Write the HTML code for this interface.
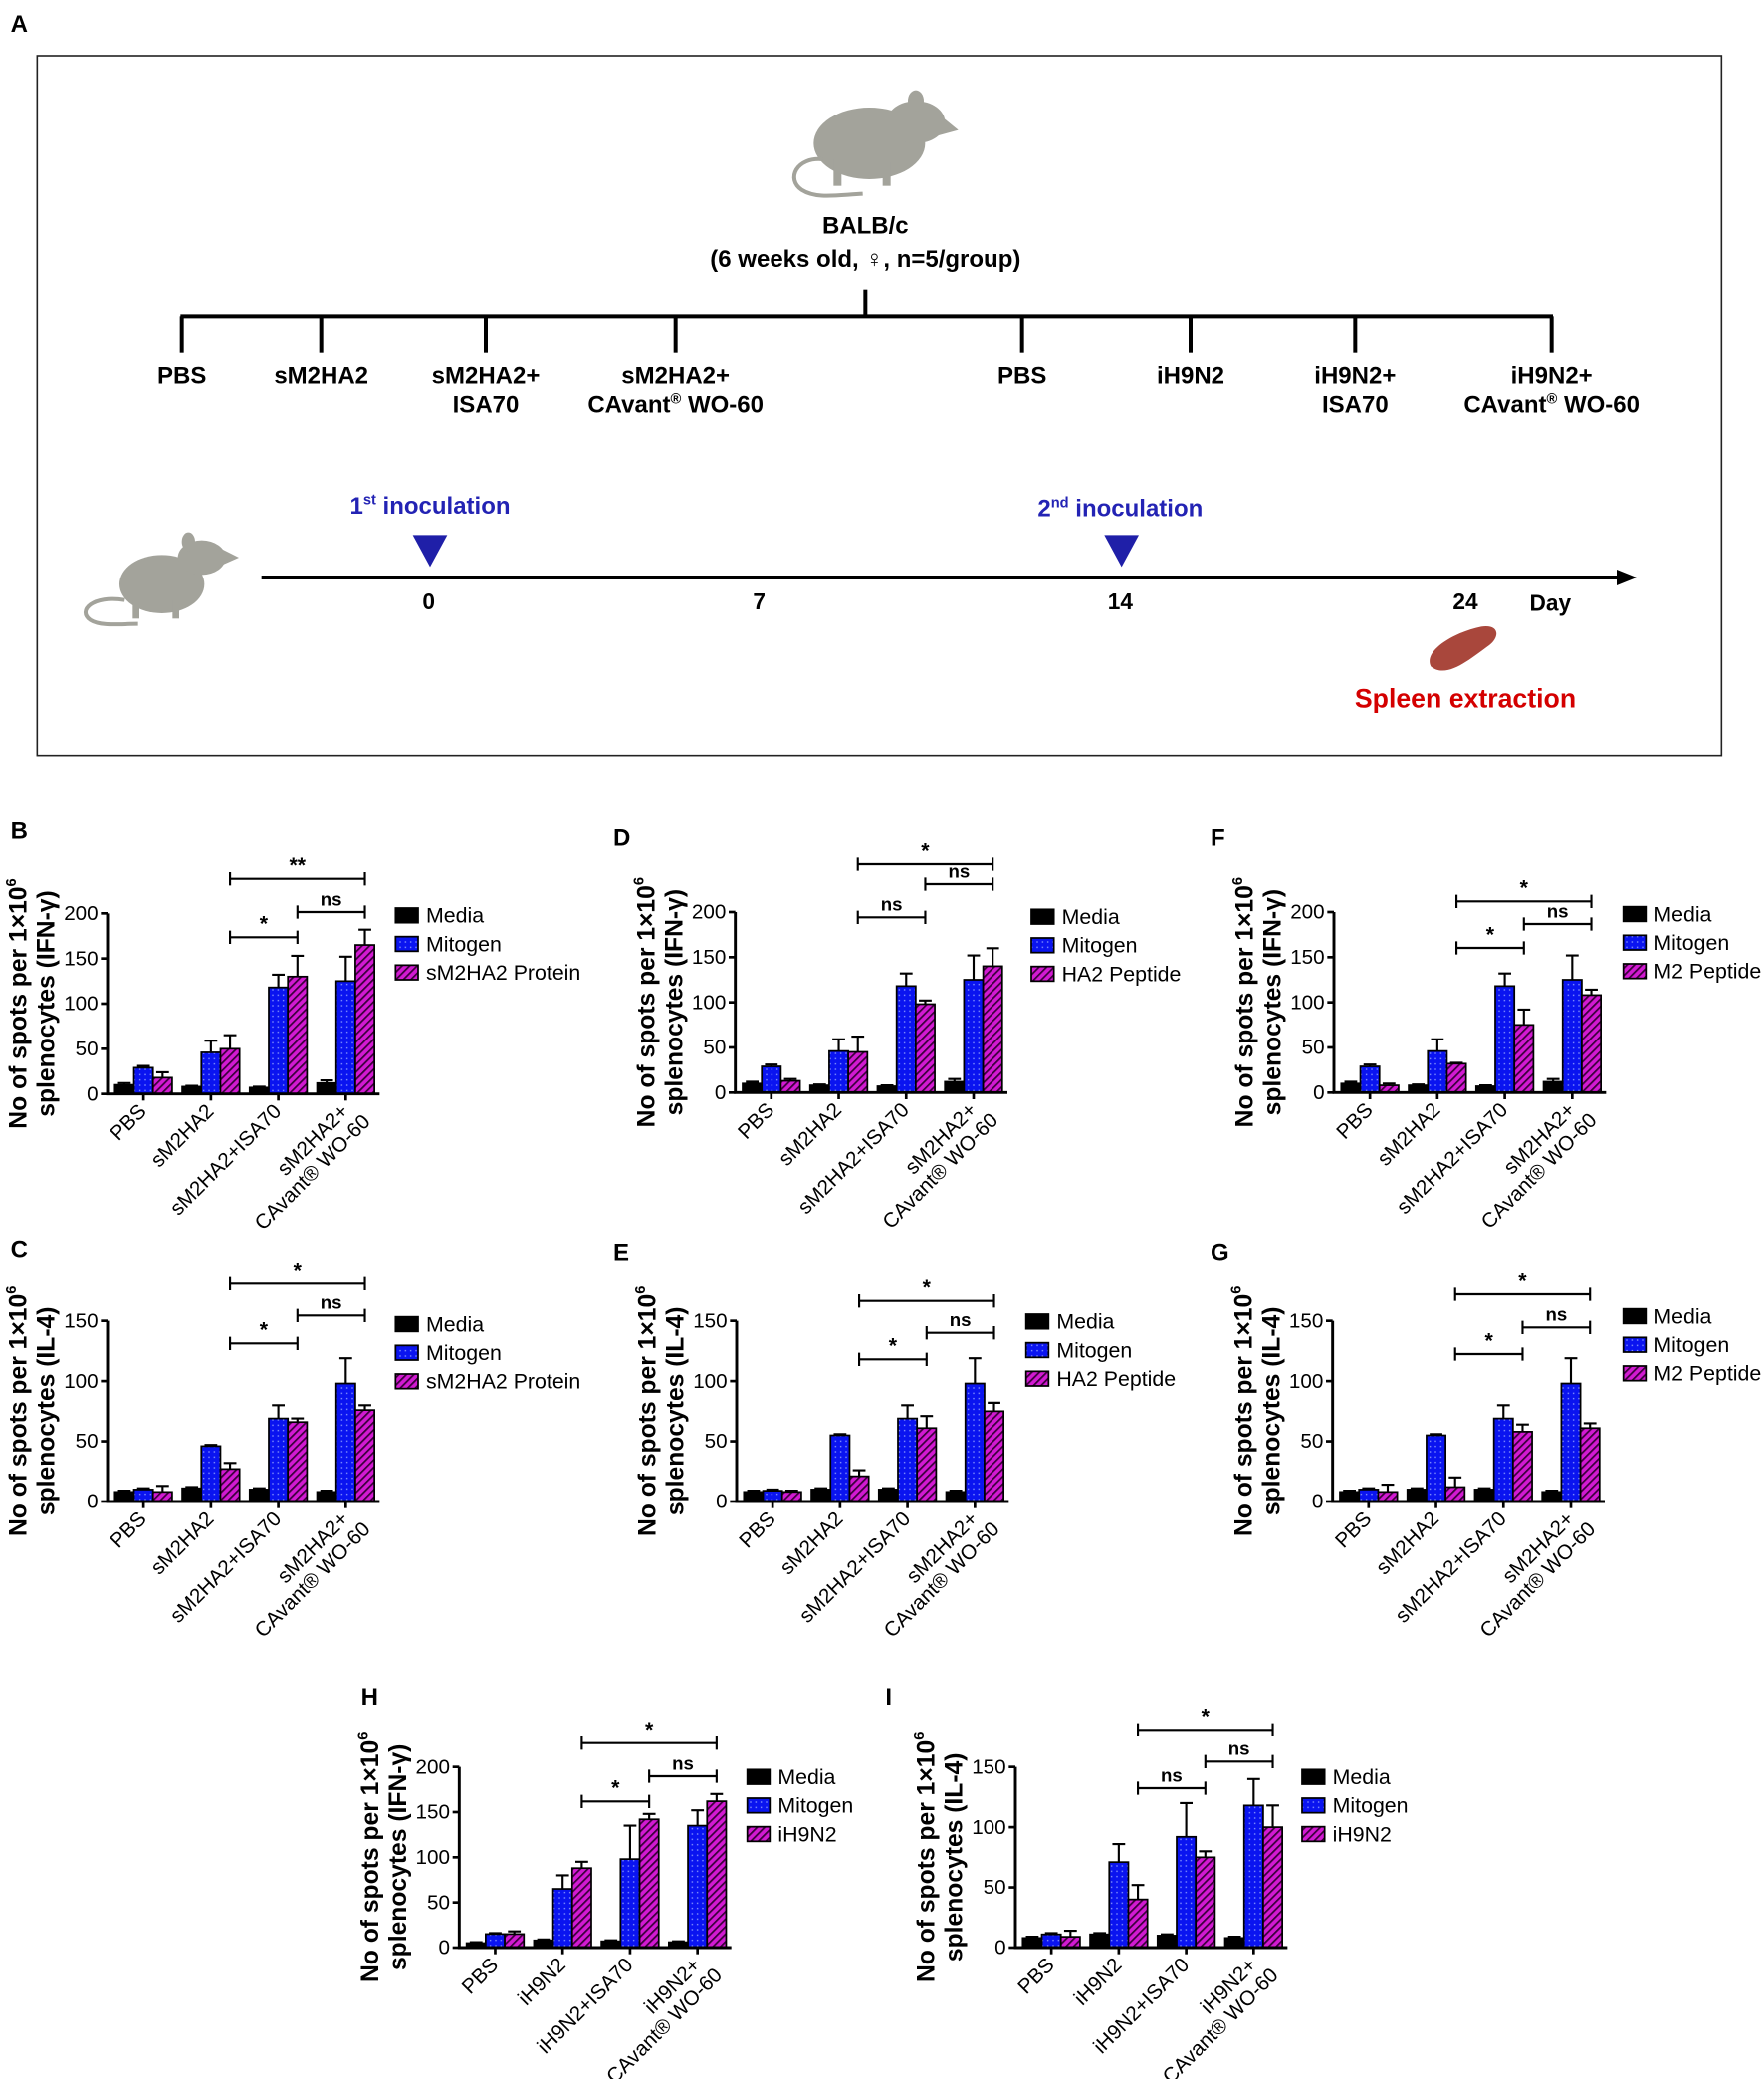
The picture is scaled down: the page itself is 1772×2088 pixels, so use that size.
<!DOCTYPE html>
<html><head><meta charset="utf-8"><style>
html,body{margin:0;padding:0;background:#fff;}
svg{display:block;font-family:"Liberation Sans",Arial,sans-serif;}
</style></head><body>
<svg id="fig" width="1772" height="2088" viewBox="0 0 1329 1566" xmlns="http://www.w3.org/2000/svg">
<defs>
<pattern id="dots" width="4" height="4" patternUnits="userSpaceOnUse"><rect width="4" height="4" fill="#0a14f0"/><rect x="1" y="1" width="1" height="1" fill="#8fa0ff"/></pattern>
<pattern id="stripes" width="4" height="4" patternUnits="userSpaceOnUse" patternTransform="rotate(45)"><rect width="4" height="4" fill="#d21ad2"/><rect width="1.3" height="4" fill="#3a003a"/></pattern>
</defs>
<g>
<text x="8" y="24" font-size="18" font-weight="bold">A</text>
<rect x="28" y="42" width="1269" height="527" fill="none" stroke="#222" stroke-width="1.2"/>
<g fill="#a3a39b">
<ellipse cx="655" cy="108" rx="42" ry="27"/>
<ellipse cx="690" cy="92" rx="22" ry="16"/>
<polygon points="700,80 722,98 700,104"/>
<ellipse cx="690" cy="76" rx="6" ry="8"/>
<rect x="628" y="120" width="6" height="20"/><rect x="665" y="122" width="6" height="18"/>
<path d="M620,120 C600,118 592,135 604,143 C615,150 630,147 650,146" fill="none" stroke="#a3a39b" stroke-width="3"/>
</g>
<text x="652" y="176" font-size="18" font-weight="bold" text-anchor="middle">BALB/c</text>
<text x="652" y="201" font-size="18" font-weight="bold" text-anchor="middle">(6 weeks old, ♀, n=5/group)</text>
<g stroke="#000" stroke-width="3" fill="none">
<line x1="652" y1="218" x2="652" y2="239"/>
<line x1="136" y1="238" x2="1170" y2="238"/>
<line x1="137" y1="238" x2="137" y2="266"/><line x1="242" y1="238" x2="242" y2="266"/>
<line x1="366" y1="238" x2="366" y2="266"/><line x1="509" y1="238" x2="509" y2="266"/>
<line x1="770" y1="238" x2="770" y2="266"/><line x1="897" y1="238" x2="897" y2="266"/>
<line x1="1021" y1="238" x2="1021" y2="266"/><line x1="1169" y1="238" x2="1169" y2="266"/>
</g>
<g font-size="18" font-weight="bold" text-anchor="middle">
<text x="137" y="289">PBS</text><text x="242" y="289">sM2HA2</text>
<text x="366" y="289">sM2HA2+</text><text x="366" y="311">ISA70</text>
<text x="509" y="289">sM2HA2+</text><text x="509" y="311">CAvant<tspan font-size="11" dy="-7">®</tspan><tspan dy="7"> WO-60</tspan></text>
<text x="770" y="289">PBS</text><text x="897" y="289">iH9N2</text>
<text x="1021" y="289">iH9N2+</text><text x="1021" y="311">ISA70</text>
<text x="1169" y="289">iH9N2+</text><text x="1169" y="311">CAvant<tspan font-size="11" dy="-7">®</tspan><tspan dy="7"> WO-60</tspan></text>
</g>
<text x="324" y="387" font-size="18" font-weight="bold" fill="#2323b4" text-anchor="middle">1<tspan font-size="11" dy="-7">st</tspan><tspan dy="7"> inoculation</tspan></text>
<text x="844" y="389" font-size="18" font-weight="bold" fill="#2323b4" text-anchor="middle">2<tspan font-size="11" dy="-7">nd</tspan><tspan dy="7"> inoculation</tspan></text>
<polygon points="311,403 337,403 324,427" fill="#1f1fa8"/>
<polygon points="832,403 858,403 845,427" fill="#1f1fa8"/>
<line x1="197" y1="435" x2="1222" y2="435" stroke="#000" stroke-width="3"/>
<polygon points="1218,429 1233,435 1218,441" fill="#000"/>
<g font-size="17" font-weight="bold" text-anchor="middle">
<text x="323" y="459">0</text><text x="572" y="459">7</text><text x="844" y="459">14</text><text x="1104" y="459">24</text><text x="1168" y="460">Day</text>
</g>
<g fill="#a3a39b">
<ellipse cx="122" cy="440" rx="32" ry="22"/>
<ellipse cx="152" cy="420" rx="18" ry="13"/>
<polygon points="160,410 180,420 162,428"/>
<ellipse cx="142" cy="408" rx="5" ry="7"/>
<rect x="100" y="452" width="5" height="14"/><rect x="130" y="452" width="5" height="14"/>
<path d="M94,452 C70,448 58,460 68,467 C76,472 90,470 104,470" fill="none" stroke="#a3a39b" stroke-width="3"/>
</g>
<path d="M1078,502 C1072,490 1096,476 1116,472 C1130,470 1130,480 1122,486 C1108,496 1090,512 1078,502 Z" fill="#a9473c"/>
<text x="1104" y="533" font-size="20" font-weight="bold" fill="#d40000" text-anchor="middle">Spleen extraction</text>
</g>
<g id="charts"></g>
</svg>
<script>
// ---- data arrays ----
const catsSM = [["PBS"],["sM2HA2"],["sM2HA2+ISA70"],["sM2HA2+","CAvant® WO-60"]];
const catsIH = [["PBS"],["iH9N2"],["iH9N2+ISA70"],["iH9N2+","CAvant® WO-60"]];
const ticksIFN = [0,50,100,150,200];
const ticksIL4 = [0,50,100,150];

const mediaB=[10,8,7,12], mediaErrB=[12,9,8,15];
const mitoB=[29,46,118,125], mitoErrB=[31,59,132,152];
const protB=[18,50,130,165], protErrB=[24,65,153,182];

const mediaD=[10,8,7,12], mediaErrD=[12,9,8,15];
const mitoD=[29,46,118,125], mitoErrD=[31,59,132,152];
const pepD=[13,45,98,140], pepErrD=[15,62,102,160];

const mediaF=[10,8,7,12], mediaErrF=[12,9,8,15];
const mitoF=[29,46,118,125], mitoErrF=[31,59,132,152];
const pepF=[8,32,75,108], pepErrF=[10,33,92,114];

const mediaC=[8,11,10,8], mediaErrC=[9,12,11,9];
const mitoC=[10,46,69,98], mitoErrC=[11,47,80,119];
const protC=[8,27,66,76], protErrC=[13,32,69,80];

const mediaE=[8,10,10,8], mediaErrE=[9,11,11,9];
const mitoE=[9,55,69,98], mitoErrE=[10,56,80,119];
const pepE=[8,21,61,75], pepErrE=[9,26,71,82];

const mediaG=[8,10,10,8], mediaErrG=[9,11,11,9];
const mitoG=[10,55,69,98], mitoErrG=[11,56,80,119];
const pepG=[8,12,58,61], pepErrG=[14,20,64,65];

const mediaH=[5,8,7,6], mediaErrH=[6,9,8,7];
const mitoH=[15,65,98,135], mitoErrH=[16,80,135,152];
const ihH=[15,88,142,162], ihErrH=[18,95,148,170];

const mediaI=[8,11,10,8], mediaErrI=[9,12,11,9];
const mitoI=[11,71,92,118], mitoErrI=[12,86,120,140];
const ihI=[9,40,75,100], ihErrI=[14,52,80,118];

const NS='http://www.w3.org/2000/svg';
const root=document.getElementById('charts');
function mk(tag,attrs,parent){const e=document.createElementNS(NS,tag);for(const k in attrs)e.setAttribute(k,attrs[k]);(parent||root).appendChild(e);return e;}

function drawPanel(c){
  const g=mk('g',{});
  
  
  const H=136, ax=c.ax, y0=c.y0;
  const y=v=>y0-v/c.yMax*H;
  const pitch=50.8, bw=14.4;
  const gl=i=>ax+5.5+i*pitch;
  const tickX=i=>gl(i)+bw*1.5;
  const L=mk('text',{x:c.lx,y:c.ly,'font-size':18,'font-weight':'bold'},g);L.textContent=c.id.toUpperCase();
  
  
  const fills=['#000','url(#dots)','url(#stripes)'];
  c.series.forEach((s,j)=>{
    s.vals.forEach((v,i)=>{
      const x=gl(i)+j*bw;
      const top=y(s.errs[i]), yt=y(v), cx=x+bw/2;
      const eb=mk('path',{d:`M${cx},${yt}V${top}M${cx-bw/3},${top}H${cx+bw/3}`,stroke:'#000','stroke-width':1.6,fill:'none'},g);
      
      
      const r=mk('rect',{x:x,y:yt,width:bw,height:Math.max(0,y0-yt),fill:fills[j],stroke:'#000','stroke-width':1.3},g);
      
      
    });
  });
  const axes=mk('path',{d:`M${ax},${y0-H}V${y0}H${ax+205}`,stroke:'#000','stroke-width':2.2,fill:'none'},g);
  
  
  c.ticks.forEach(t=>{
    mk('line',{x1:ax-5,x2:ax,y1:y(t),y2:y(t),stroke:'#000','stroke-width':2},g);
    const tx=mk('text',{x:ax-7,y:y(t)+5,'font-size':15.5,'text-anchor':'end'},g);tx.textContent=t;
    
    
  });
  c.cats.forEach((lines,i)=>{
    const tx0=tickX(i);
    mk('line',{x1:tx0,x2:tx0,y1:y0,y2:y0+5,stroke:'#000','stroke-width':2},g);
    const t=mk('text',{transform:`translate(${tx0+3},${y0+14}) rotate(-45)`,'font-size':15.5,'text-anchor':'end'},g);
    
    
    lines.forEach((ln,k)=>{const sp=mk('tspan',{x:k?6:0,dy:k?17:0},t);sp.textContent=ln;});
  });
  c.brackets.forEach(b=>{
    const x1=gl(b[0])+bw*2.5, x2=gl(b[1])+bw*2.5, by=b[2];
    const p=mk('path',{d:`M${x1},${by-5}V${by+5}M${x1},${by}H${x2}M${x2},${by-5}V${by+5}`,stroke:'#000','stroke-width':1.6,fill:'none'},g);
    
    
    const t=mk('text',{x:(x1+x2)/2,y:by-5,'font-size':b[3]=='ns'?14:16,'font-weight':'bold','text-anchor':'middle'},g);t.textContent=b[3];
    
    
  });
  const cy=y0-68;
  const t1=mk('text',{transform:`translate(${ax-61},${cy}) rotate(-90)`,'font-size':18.5,'font-weight':'bold','text-anchor':'middle'},g);
  t1.innerHTML='No of spots per 1×10<tspan font-size="11" dy="-8">6</tspan>';
  
  
  const t2=mk('text',{transform:`translate(${ax-40},${cy}) rotate(-90)`,'font-size':18.5,'font-weight':'bold','text-anchor':'middle'},g);
  t2.textContent='splenocytes  ('+c.cyt+')';
  
  
  c.series.forEach((s,j)=>{
    const ly=c.legY+j*21.5;
    const r=mk('rect',{x:c.legX,y:ly-10,width:17,height:11,fill:fills[j],stroke:'#000','stroke-width':1.3},g);
    
    
    const t=mk('text',{x:c.legX+23,y:ly+1,'font-size':16},g);t.textContent=s.name;
    
    
  });
}
const S=(a,b,c,n)=>[{name:'Media',vals:a[0],errs:a[1]},{name:'Mitogen',vals:b[0],errs:b[1]},{name:n,vals:c[0],errs:c[1]}];
drawPanel({id:'b',ax:81,y0:824,yMax:200,ticks:ticksIFN,cats:catsSM,cyt:'IFN-γ',lx:8,ly:632,legX:298,legY:694,
  series:S([mediaB,mediaErrB],[mitoB,mitoErrB],[protB,protErrB],'sM2HA2 Protein'),brackets:[[1,2,706,'*'],[2,3,687,'ns'],[1,3,662,'**']]});
drawPanel({id:'d',ax:554,y0:823,yMax:200,ticks:ticksIFN,cats:catsSM,cyt:'IFN-γ',lx:462,ly:637,legX:777,legY:695,
  series:S([mediaD,mediaErrD],[mitoD,mitoErrD],[pepD,pepErrD],'HA2 Peptide'),brackets:[[1,2,691,'ns'],[2,3,666,'ns'],[1,3,651,'*']]});
drawPanel({id:'f',ax:1005,y0:823,yMax:200,ticks:ticksIFN,cats:catsSM,cyt:'IFN-γ',lx:912,ly:637,legX:1223,legY:693,
  series:S([mediaF,mediaErrF],[mitoF,mitoErrF],[pepF,pepErrF],'M2 Peptide'),brackets:[[1,2,714,'*'],[2,3,696,'ns'],[1,3,679,'*']]});
drawPanel({id:'c',ax:81,y0:1131,yMax:150,ticks:ticksIL4,cats:catsSM,cyt:'IL-4',lx:8,ly:947,legX:298,legY:1002,
  series:S([mediaC,mediaErrC],[mitoC,mitoErrC],[protC,protErrC],'sM2HA2 Protein'),brackets:[[1,2,1012,'*'],[2,3,991,'ns'],[1,3,967,'*']]});
drawPanel({id:'e',ax:555,y0:1131,yMax:150,ticks:ticksIL4,cats:catsSM,cyt:'IL-4',lx:462,ly:949,legX:773,legY:1000,
  series:S([mediaE,mediaErrE],[mitoE,mitoErrE],[pepE,pepErrE],'HA2 Peptide'),brackets:[[1,2,1024,'*'],[2,3,1004,'ns'],[1,3,980,'*']]});
drawPanel({id:'g',ax:1004,y0:1131,yMax:150,ticks:ticksIL4,cats:catsSM,cyt:'IL-4',lx:912,ly:949,legX:1223,legY:996,
  series:S([mediaG,mediaErrG],[mitoG,mitoErrG],[pepG,pepErrG],'M2 Peptide'),brackets:[[1,2,1020,'*'],[2,3,1000,'ns'],[1,3,975,'*']]});
drawPanel({id:'h',ax:346,y0:1467,yMax:200,ticks:ticksIFN,cats:catsIH,cyt:'IFN-γ',lx:272,ly:1284,legX:563,legY:1343,
  series:S([mediaH,mediaErrH],[mitoH,mitoErrH],[ihH,ihErrH],'iH9N2'),brackets:[[1,2,1357,'*'],[2,3,1338,'ns'],[1,3,1313,'*']]});
drawPanel({id:'i',ax:765,y0:1467,yMax:150,ticks:ticksIL4,cats:catsIH,cyt:'IL-4',lx:667,ly:1284,legX:981,legY:1343,
  series:S([mediaI,mediaErrI],[mitoI,mitoErrI],[ihI,ihErrI],'iH9N2'),brackets:[[1,2,1347,'ns'],[2,3,1327,'ns'],[1,3,1303,'*']]});
</script>
</body></html>
